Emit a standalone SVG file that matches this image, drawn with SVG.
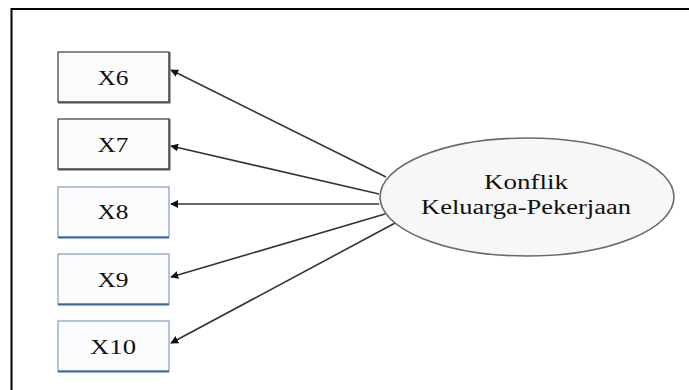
<svg xmlns="http://www.w3.org/2000/svg" width="689" height="390" viewBox="0 0 689 390">
<style>
.frame{fill:none;stroke:#000;stroke-width:2}
.gbox{fill:#fbfbfb;stroke:#3a3a3a;stroke-width:1.2}
.bbox{fill:#fcfcfd;stroke:#7f9cc4;stroke-width:1.2}
.gsh{stroke:#555;stroke-width:2;fill:none}
.bsh{stroke:#40679a;stroke-width:2;fill:none}
.lbl{font-family:"Liberation Serif","Times New Roman",serif;font-size:20px;fill:#111;text-anchor:middle}
.conn{stroke:#333;stroke-width:1.6;fill:none;marker-end:url(#ah)}
</style>
<defs>
<marker id="ah" viewBox="0 0 10 10" refX="9" refY="5" markerWidth="5" markerHeight="5" orient="auto" markerUnits="strokeWidth">
<path d="M0,0 L10,5 L0,10 z" fill="#111"/>
</marker>
</defs>
<rect width="689" height="390" fill="#fff"/>
<path class="frame" d="M11.5,400 V9 H700"/>
<g id="connectors">
<line class="conn" x1="386" y1="177" x2="171" y2="70"/>
<line class="conn" x1="379" y1="194" x2="171" y2="146"/>
<line class="conn" x1="379" y1="204" x2="171" y2="204"/>
<line class="conn" x1="385" y1="214" x2="171" y2="277"/>
<line class="conn" x1="397" y1="222" x2="171" y2="343"/>
</g>
<g id="X6">
<rect class="gbox" x="58" y="52" width="111" height="50"/>
<path class="gsh" d="M58,102.5 H169.5 V52"/>
<text class="lbl" x="113" y="85" textLength="31" lengthAdjust="spacingAndGlyphs">X6</text>
</g>
<g id="X7">
<rect class="gbox" x="58" y="119" width="111" height="50"/>
<path class="gsh" d="M58,169.5 H169.5 V119"/>
<text class="lbl" x="113" y="152" textLength="31" lengthAdjust="spacingAndGlyphs">X7</text>
</g>
<g id="X8">
<rect class="bbox" x="58" y="187" width="111" height="50"/>
<path class="bsh" d="M58,237.5 H169"/>
<text class="lbl" x="113" y="219" textLength="31" lengthAdjust="spacingAndGlyphs">X8</text>
</g>
<g id="X9">
<rect class="bbox" x="58" y="254" width="111" height="50"/>
<path class="bsh" d="M58,304.5 H169"/>
<text class="lbl" x="113" y="287" textLength="31" lengthAdjust="spacingAndGlyphs">X9</text>
</g>
<g id="X10">
<rect class="bbox" x="58" y="321" width="111" height="50"/>
<path class="bsh" d="M58,371.5 H169"/>
<text class="lbl" x="113" y="354" textLength="46" lengthAdjust="spacingAndGlyphs">X10</text>
</g>
<g id="konflik">
<ellipse cx="527" cy="197" rx="147" ry="59" fill="#f7f7f7" stroke="#6a6a6a" stroke-width="1.6"/>
<text class="lbl" x="526" y="189" textLength="84" lengthAdjust="spacingAndGlyphs">Konflik</text>
<text class="lbl" x="526" y="214" textLength="210" lengthAdjust="spacingAndGlyphs">Keluarga-Pekerjaan</text>
</g>
</svg>
